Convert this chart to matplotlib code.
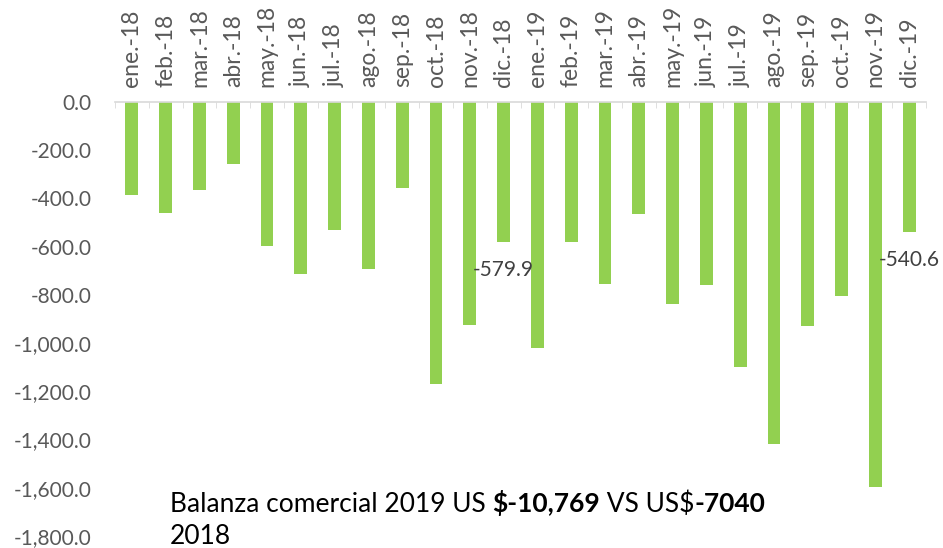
import numpy as np
import matplotlib.pyplot as plt
from matplotlib.ticker import FuncFormatter

plt.rcParams['font.family'] = ['Lato', 'DejaVu Sans']

months = ["ene.-18", "feb.-18", "mar.-18", "abr.-18", "may.-18", "jun.-18",
          "jul.-18", "ago.-18", "sep.-18", "oct.-18", "nov.-18", "dic.-18",
          "ene.-19", "feb.-19", "mar.-19", "abr.-19", "may.-19", "jun.-19",
          "jul.-19", "ago.-19", "sep.-19", "oct.-19", "nov.-19", "dic.-19"]
balance = [-386, -462, -363, -256, -598, -715, -529, -691, -356, -1171, -924, -579.9,
           -1020, -582, -755, -465, -836, -760, -1101, -1417, -928, -806, -1597, -540.6]
labelled = ["dic.-18", "dic.-19"]

# note text: (text, weight)
note = [("Balanza comercial 2019 US ", "normal"), ("$-10,769", "bold"),
        (" VS US$", "normal"), ("-7040", "bold")]
note_line2 = "2018"

fig = plt.figure(figsize=(9.43, 5.48), dpi=100)
ax = fig.add_axes([115/943, 12/548, 811/943, 434/548])

x = np.arange(len(months))
ax.bar(x, balance, width=0.38, color="#92D050")
ax.set_xlim(-0.5, len(months) - 0.5)
ax.set_ylim(-1800, 0)
ax.set_yticks(np.arange(-1800, 1, 200))
ax.yaxis.set_major_formatter(FuncFormatter(lambda v, p: f"{v:,.1f}"))

for s in ["left", "right", "bottom"]:
    ax.spines[s].set_visible(False)
ax.spines["top"].set_color("#D9D9D9")
ax.spines["top"].set_linewidth(1.2)

ax.xaxis.tick_top()
ax.set_xticks(x, months, rotation=90)
ax.set_xticks(np.arange(-0.5, len(months), 1), minor=True)
ax.tick_params(axis="x", which="major", length=0, pad=11, labelsize=16.5, labelcolor="#595959")
ax.tick_params(axis="x", which="minor", top=True, bottom=False, direction="in",
               length=4, color="#D9D9D9")
ax.tick_params(axis="y", length=0, pad=17, labelsize=15, labelcolor="#595959")

for i, (m, v) in enumerate(zip(months, balance)):
    if m in labelled:
        ax.annotate(f"{v:.1f}", (i, v), xytext=(0, -20), textcoords="offset points",
                    ha="center", va="center", fontsize=15, color="#404040",
                    annotation_clip=False)

# mixed-weight note, pieces placed one after another
r = fig.canvas.get_renderer()
xpos = 170/943
for txt, w in note:
    t = fig.text(xpos, 1 - 512/548, txt, fontsize=19, fontweight=w, va="baseline", ha="left")
    xpos += t.get_window_extent(r).width / fig.bbox.width
fig.text(170/943, 1 - 544/548, note_line2, fontsize=19, va="baseline", ha="left")

plt.savefig("out.png", dpi=100, facecolor="w")
